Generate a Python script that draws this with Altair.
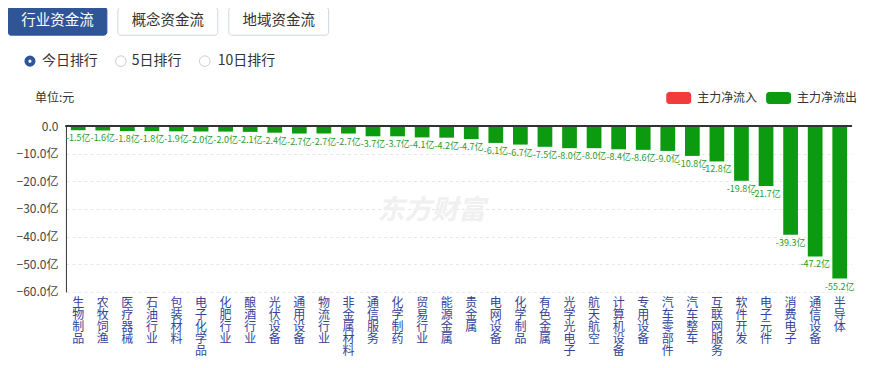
import altair as alt
import pandas as pd

categories = ["生物制品", "农牧饲渔", "医疗器械", "石油行业", "包装材料", "电子化学品", "化肥行业", "酿酒行业",
              "光伏设备", "通用设备", "物流行业", "非金属材料", "通信服务", "化学制药", "贸易行业", "能源金属",
              "贵金属", "电网设备", "化学制品", "有色金属", "光学光电子", "航天航空", "计算机设备", "专用设备",
              "汽车零部件", "汽车整车", "互联网服务", "软件开发", "电子元件", "消费电子", "通信设备", "半导体"]
values = [-1.5, -1.6, -1.8, -1.8, -1.9, -2.0, -2.0, -2.1,
          -2.4, -2.7, -2.7, -2.7, -3.7, -3.7, -4.1, -4.2,
          -4.7, -6.1, -6.7, -7.5, -8.0, -8.0, -8.4, -8.6,
          -9.0, -10.8, -12.8, -19.8, -21.7, -39.3, -47.2, -55.2]
y_ticks = [0, -10, -20, -30, -40, -50, -60]
tabs = ["行业资金流", "概念资金流", "地域资金流"]
radios = ["今日排行", "5日排行", "10日排行"]
legend_items = ["主力净流入", "主力净流出"]
unit_text = "单位:元"
watermark = "东方财富"

FONT = "Noto Sans CJK SC"
GREEN = "#0c9a10"
RED = "#f23b3b"
BLUE = "#2f5597"
W, H = 787, 166

df = pd.DataFrame({"cat": categories, "val": values})
df["label"] = [f"{v:.1f}亿" for v in values]

xaxis = alt.Axis(title=None, labelAngle=0, domain=False, ticks=False,
                 labelExpr="split(datum.label, '')", labelLineHeight=12,
                 labelBaseline="top", labelPadding=6, labelFontSize=12,
                 labelOverlap=False,
                 labelColor="#33449a", labelFont=FONT, grid=False)
yaxis = alt.Axis(title=None, values=y_ticks, ticks=False, domain=True,
                 domainColor="#333333", labelColor="#444444", labelFontSize=12,
                 labelFont=FONT, labelPadding=8, labelOverlap=False,
                 labelExpr="datum.value == 0 ? '0.0' : format(datum.value, '.1f') + '亿'",
                 grid=True, gridColor="#e6e6e6", gridDash=[3, 3])
xenc = alt.X("cat:N", sort=None, scale=alt.Scale(paddingInner=0.4, paddingOuter=0.2), axis=xaxis)
yenc = alt.Y("val:Q", scale=alt.Scale(domain=[-60, 0], nice=False), axis=yaxis)

base = alt.Chart(df)
bars = base.mark_bar(color=GREEN).encode(x=xenc, y=yenc)
labels = base.mark_text(baseline="top", dy=4, fontSize=9, color="#2a9a2a", font=FONT).encode(
    x=xenc, y=yenc, text="label:N")
zero = base.mark_rule(color="#333333", strokeWidth=1).encode(
    x=alt.value(0), x2=alt.value(W), y=alt.value(0))

one = alt.Chart(pd.DataFrame({"a": [0]}))
layers = [bars, zero, labels]

# watermark
layers.append(one.mark_text(text=watermark, fontSize=27, fontWeight="bold", fontStyle="italic",
                            color="#f0f0f0", align="left", baseline="middle", font=FONT).encode(
    x=alt.value(312), y=alt.value(85)))

# tab buttons
tab_x = [-58, 52, 163]
for i, t in enumerate(tabs):
    sel = i == 0
    x1 = tab_x[i]
    x2 = tab_x[i] + 100 if i else 41
    layers.append(one.mark_rect(fill=BLUE if sel else "white", stroke=BLUE if sel else "#cfd6df",
                                strokeWidth=1, cornerRadius=3).encode(
        x=alt.value(x1), x2=alt.value(x2), y=alt.value(-119), y2=alt.value(-91)))
    layers.append(one.mark_text(text=t, fontSize=14.5, color="white" if sel else "#333333",
                                align="center", baseline="middle", font=FONT).encode(
        x=alt.value((x1 + x2) / 2), y=alt.value(-105)))

# radios
radio_cx = [-36, 55, 139]
radio_tx = [-24, 66, 152]
for i, r in enumerate(radios):
    if i == 0:
        layers.append(one.mark_point(shape="circle", size=50, filled=False, stroke=BLUE,
                                     strokeWidth=4, fill="white", opacity=1).encode(
            x=alt.value(radio_cx[i]), y=alt.value(-65)))
    else:
        layers.append(one.mark_point(shape="circle", size=113, filled=False, stroke="#cccccc",
                                     strokeWidth=1, opacity=1).encode(
            x=alt.value(radio_cx[i]), y=alt.value(-65)))
    layers.append(one.mark_text(text=r, fontSize=14, color="#333333", align="left",
                                baseline="middle", font=FONT).encode(
        x=alt.value(radio_tx[i]), y=alt.value(-65)))

# unit
layers.append(one.mark_text(text=unit_text, fontSize=12, color="#333333", align="left",
                            baseline="middle", font=FONT).encode(x=alt.value(-31), y=alt.value(-28)))

# legend
leg_rect_x = [601, 701]
leg_colors = [RED, GREEN]
for i, item in enumerate(legend_items):
    layers.append(one.mark_rect(fill=leg_colors[i], cornerRadius=3).encode(
        x=alt.value(leg_rect_x[i]), x2=alt.value(leg_rect_x[i] + 25),
        y=alt.value(-34), y2=alt.value(-22)))
    layers.append(one.mark_text(text=item, fontSize=12, color="#333333", align="left",
                                baseline="middle", font=FONT).encode(
        x=alt.value(leg_rect_x[i] + 31), y=alt.value(-28)))

chart = alt.layer(*layers).properties(
    width=W, height=H,
    autosize=alt.AutoSizeParams(type="none"),
    padding={"left": 58, "top": 118, "right": 10, "bottom": 76},
    background="white",
).configure_view(stroke=None)

chart.save("out.html", embed_options={"renderer": "svg", "actions": False})
